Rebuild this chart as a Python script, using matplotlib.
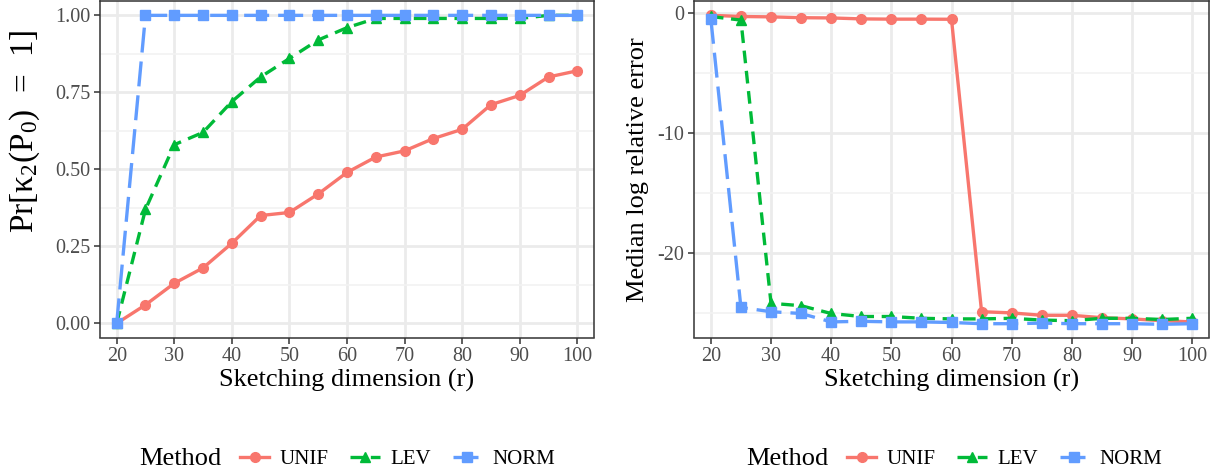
import matplotlib
matplotlib.use("Agg")
import matplotlib.pyplot as plt
from matplotlib.lines import Line2D

plt.rcParams['font.family'] = ['Liberation Serif', 'DejaVu Serif']
plt.rcParams['mathtext.default'] = 'regular'

# Data
r = [20, 25, 30, 35, 40, 45, 50, 55, 60, 65, 70, 75, 80, 85, 90, 95, 100]
methods = ['UNIF', 'LEV', 'NORM']

prob_unif = [0.00, 0.06, 0.13, 0.18, 0.26, 0.35, 0.36, 0.42, 0.49, 0.54, 0.56, 0.60, 0.63, 0.71, 0.74, 0.80, 0.82]
prob_lev = [0.00, 0.37, 0.58, 0.62, 0.72, 0.80, 0.86, 0.92, 0.96, 0.99, 0.99, 0.99, 0.99, 0.99, 0.99, 1.00, 1.00]
prob_norm = [0.00, 1.00, 1.00, 1.00, 1.00, 1.00, 1.00, 1.00, 1.00, 1.00, 1.00, 1.00, 1.00, 1.00, 1.00, 1.00, 1.00]

err_unif = [-0.2, -0.3, -0.33, -0.4, -0.42, -0.5, -0.52, -0.52, -0.53, -24.9, -25.0, -25.2, -25.2, -25.4, -25.5, -25.65, -25.75]
err_lev = [-0.3, -0.6, -24.2, -24.4, -25.05, -25.3, -25.3, -25.45, -25.5, -25.5, -25.45, -25.6, -25.65, -25.45, -25.45, -25.55, -25.45]
err_norm = [-0.5, -24.55, -24.9, -25.05, -25.75, -25.7, -25.75, -25.75, -25.8, -25.9, -25.9, -25.85, -25.9, -25.9, -25.9, -25.95, -25.9]

colors = {'UNIF': '#F8766D', 'LEV': '#00BA38', 'NORM': '#619CFF'}
markers = {'UNIF': 'o', 'LEV': '^', 'NORM': 's'}
dashes = {'UNIF': None, 'LEV': (3.8, 2.3), 'NORM': (7.5, 2.7)}

LW = 2.4
MS = 7


def style_axes(ax, xlim, ylim, yticks, yticklabels, yminor):
    ax.set_xlim(*xlim)
    ax.set_ylim(*ylim)
    ax.set_xticks(range(20, 101, 10))
    ax.set_yticks(yticks)
    ax.set_yticklabels(yticklabels)
    ax.set_yticks(yminor, minor=True)
    ax.grid(True, which='major', color='#EBEBEB', lw=2.0)
    ax.grid(True, which='minor', axis='y', color='#F2F2F2', lw=1.2)
    ax.set_axisbelow(True)
    for s in ax.spines.values():
        s.set_color('#333333')
        s.set_linewidth(1.1)
    ax.tick_params(which='major', length=4, width=1.1, color='#333333',
                   labelcolor='#4D4D4D', labelsize=14.5, pad=3)
    ax.tick_params(which='minor', length=0)
    ax.set_xlabel('Sketching dimension (r)', fontsize=19, labelpad=2)


def draw(ax, series):
    for m, y in zip(methods, series):
        line, = ax.plot(r, y, color=colors[m], marker=markers[m], ms=MS,
                        lw=LW, solid_capstyle='butt', dash_capstyle='butt')
        if dashes[m] is not None:
            line.set_dashes(dashes[m])


fig = plt.figure(figsize=(12.14, 4.73), dpi=100)
W, H = 1214, 473

ax1 = fig.add_axes([100 / W, 1 - 337.5 / H, 494 / W, 336 / H])
ax2 = fig.add_axes([694 / W, 1 - 337.5 / H, 515 / W, 336 / H])

draw(ax1, [prob_unif, prob_lev, prob_norm])
style_axes(ax1, (17.1, 102.9), (-0.046, 1.045),
           [0, 0.25, 0.5, 0.75, 1.0], ['0.00', '0.25', '0.50', '0.75', '1.00'],
           [0.125, 0.375, 0.625, 0.875])
fig.text(25 / W, 1 - 131 / H, 'Pr[κ$_2$(P$_0$)  =  1]', fontsize=24,
         rotation=90, ha='center', va='center')

draw(ax2, [err_unif, err_lev, err_norm])
style_axes(ax2, (17.2, 102.8), (-27.05, 0.95),
           [0, -10, -20], ['0', '-10', '-20'], [-5, -15, -25])
ax2.set_ylabel('Median log relative error', fontsize=19, labelpad=6)

# Legends (title to the left, entries in a row)
handles = []
for m in methods:
    h = Line2D([], [], color=colors[m], marker=markers[m], ms=MS, lw=LW)
    if dashes[m] is not None:
        h.set_dashes(dashes[m])
    handles.append(h)

for x_title, x_leg in [(139, 240), (746, 847)]:
    fig.text(x_title / W, 1 - 459 / H, 'Method', fontsize=19, ha='left', va='center')
    fig.legend(handles, methods, loc='center left', ncol=3,
               bbox_to_anchor=(x_leg / W, 1 - 459 / H), frameon=False,
               fontsize=15, handlelength=1.4, handletextpad=0.5,
               columnspacing=1.05, borderpad=0, borderaxespad=0)

fig.savefig('out.png', dpi=100)
